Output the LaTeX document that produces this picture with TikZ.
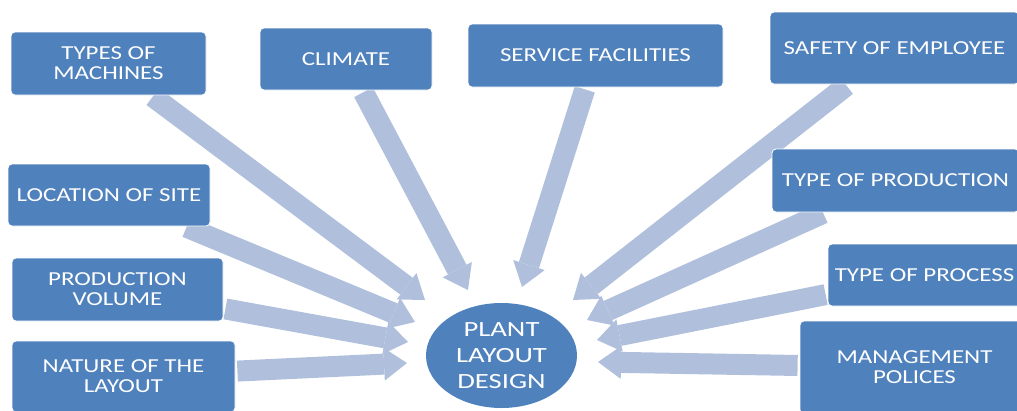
\documentclass[tikz,border=0pt]{standalone}
\usepackage{fontspec}
\setmainfont[FakeStretch=1.26]{Carlito}
\newfontfamily\ellfont[FakeStretch=1.32]{Carlito}
\usetikzlibrary{shapes.geometric,arrows.meta}
\pgfdeclarelayer{background}
\pgfsetlayers{background,main}
\definecolor{boxblue}{HTML}{4F81BD}
\definecolor{arrowblue}{HTML}{B0C0DC}
\begin{document}
\begin{tikzpicture}[x=1pt,y=-1pt,
  factor/.style={draw=white, line width=0.8pt, fill=boxblue, rounded corners=4pt, text=white, align=center, inner sep=0pt, font=\fontsize{19.8}{20}\selectfont},
  hub/.style={ellipse, fill=boxblue, text=white, align=center, inner sep=0pt, minimum width=151pt, minimum height=105pt, font=\ellfont\fontsize{21.7}{26}\selectfont},
  bigarrow/.style={draw=arrowblue, line width=21pt, shorten <=2pt, -{Triangle[width=33pt,length=23pt,line width=0pt]}}
]
\useasboundingbox (0,0) rectangle (1017,410);
\node[factor, minimum width=195pt, minimum height=63pt] (mach) at (108.5,63.5) {TYPES OF\\MACHINES};
\node[factor, minimum width=172pt, minimum height=62pt] (clim) at (346,59) {CLIMATE};
\node[factor, minimum width=255pt, minimum height=63pt] (serv) at (595.5,55.5) {SERVICE FACILITIES};
\node[factor, minimum width=249pt, minimum height=72pt] (safe) at (894.5,48) {SAFETY OF EMPLOYEE};
\node[factor, minimum width=247pt, minimum height=63pt] (prod) at (895.5,180.5) {TYPE OF PRODUCTION};
\node[factor, minimum width=202pt, minimum height=62pt] (loc) at (109,195) {LOCATION OF SITE};
\node[factor, minimum width=211pt, minimum height=63pt] (vol) at (117.5,289.5) {PRODUCTION\\VOLUME};
\node[factor, minimum width=223pt, minimum height=71pt] (nat) at (123.5,376.5) {NATURE OF THE\\LAYOUT};
\node[factor, minimum width=193pt, minimum height=62pt] (proc) at (924.5,275) {TYPE OF PROCESS};
\node[factor, minimum width=229pt, minimum height=93pt] (mgmt) at (914.5,367.5) {MANAGEMENT\\POLICES};
\node[hub] (hub) at (501.5,355.5) {PLANT\\LAYOUT\\DESIGN};
\coordinate (tA) at (425,300);
\coordinate (tB) at (468,290);
\coordinate (tC) at (522,287);
\coordinate (tD) at (573,300);
\coordinate (tE) at (587,320);
\coordinate (tF) at (415,322);
\coordinate (tG) at (408,342);
\coordinate (tH) at (407,363);
\coordinate (tI) at (597,340);
\coordinate (tJ) at (598,362);
\begin{pgfonlayer}{background}
\draw[bigarrow] (mach) -- (tA);
\draw[bigarrow] (clim) -- (tB);
\draw[bigarrow] (serv) -- (tC);
\draw[bigarrow] (safe) -- (tD);
\draw[bigarrow] (prod) -- (tE);
\draw[bigarrow] (loc) -- (tF);
\draw[bigarrow] (vol) -- (tG);
\draw[bigarrow] (nat) -- (tH);
\draw[bigarrow] (proc) -- (tI);
\draw[bigarrow] (mgmt) -- (tJ);
\end{pgfonlayer}
\end{tikzpicture}
\end{document}
